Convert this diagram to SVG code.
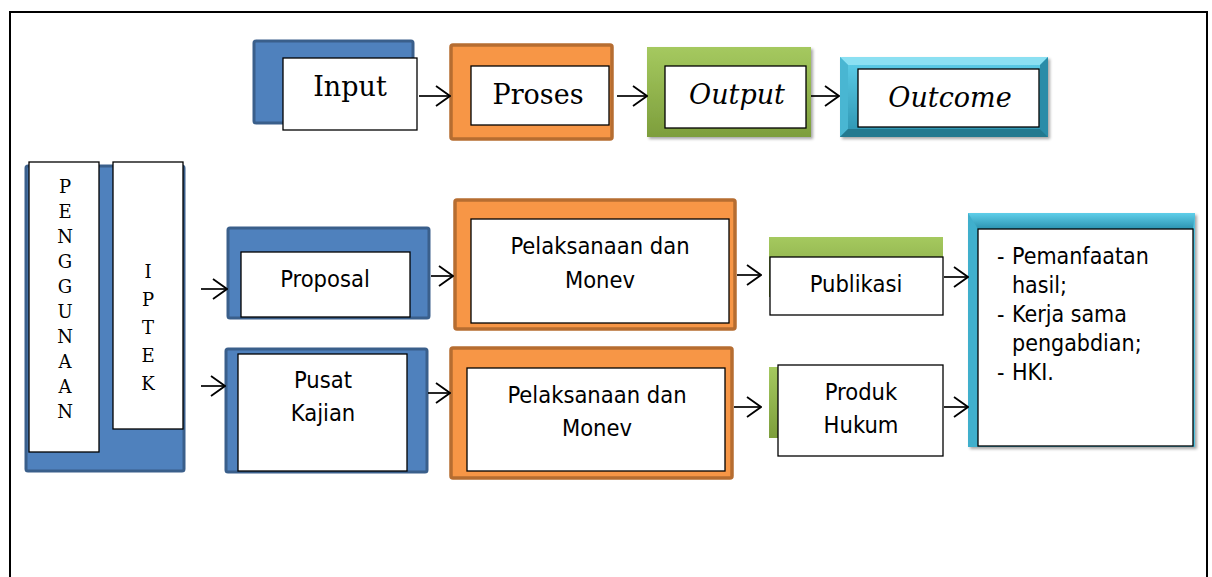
<svg xmlns="http://www.w3.org/2000/svg" width="1212" height="577" viewBox="0 0 1212 577">
<style>
.blue{fill:#4F81BD;stroke:#3A5F8B;stroke-width:3}
.orange{fill:#F79646;stroke:#B66D31;stroke-width:3.5}
.inner{fill:#fff;stroke:#000;stroke-width:1.3}
.serif{font-family:'DejaVu Serif',serif;font-size:27px;fill:#000;text-anchor:middle}
.it{font-style:italic}
.vert{font-family:'DejaVu Serif',serif;font-size:18px;fill:#000;text-anchor:middle}
.sans{font-family:'DejaVu Sans Condensed','DejaVu Sans',sans-serif;font-stretch:condensed;font-size:23.5px;fill:#000;text-anchor:middle}
.sansl{font-family:'DejaVu Sans Condensed','DejaVu Sans',sans-serif;font-stretch:condensed;font-size:23px;fill:#000}
.conn{stroke:#000;stroke-width:1.7;fill:none;marker-end:url(#arr)}
</style>
<defs>
<marker id="arr" markerUnits="userSpaceOnUse" viewBox="0 0 16 22" refX="15" refY="11" markerWidth="16" markerHeight="22" orient="auto">
<path d="M1,1 L15,11 L1,21" fill="none" stroke="#000" stroke-width="1.8"/>
</marker>
<linearGradient id="green" x1="0" y1="0" x2="0" y2="1">
<stop offset="0" stop-color="#A5C95F"/>
<stop offset="1" stop-color="#7D9E3C"/>
</linearGradient>
<linearGradient id="cyan" x1="0" y1="0" x2="0" y2="1">
<stop offset="0" stop-color="#5FCFEA"/>
<stop offset="1" stop-color="#2C93B0"/>
</linearGradient>
<linearGradient id="cyanL" x1="0" y1="0" x2="1" y2="0">
<stop offset="0" stop-color="#3FAFCC"/>
<stop offset="1" stop-color="#55C3DF"/>
</linearGradient>
<filter id="sh" x="-5%" y="-5%" width="115%" height="115%">
<feDropShadow dx="2" dy="2" stdDeviation="1.5" flood-color="#000" flood-opacity="0.35"/>
</filter>
</defs>
<rect width="1212" height="577" fill="#fff"/>
<rect x="10" y="12" width="1197" height="600" fill="none" stroke="#000" stroke-width="2"/>

<g id="input">
<rect class="blue" x="254" y="41" width="159" height="82" rx="2"/>
<rect class="inner" x="283" y="58" width="134" height="72"/>
<text class="serif" x="350" y="96">Input</text>
</g>
<g id="proses">
<rect class="orange" x="451" y="45" width="161" height="94" rx="2"/>
<rect class="inner" x="471" y="66" width="138" height="59"/>
<text class="serif" x="538" y="104">Proses</text>
</g>
<g id="output">
<rect x="647" y="47" width="164" height="90" fill="url(#green)" filter="url(#sh)"/>
<rect class="inner" x="665" y="66" width="141" height="62"/>
<text class="serif it" x="737" y="104">Output</text>
</g>
<g id="outcome">
<rect x="840" y="57" width="208" height="80" fill="url(#cyan)" filter="url(#sh)"/>
<path d="M840,57 L1048,57 L1040,65 L848,65 Z" fill="#8BE0F2"/>
<path d="M840,57 L848,65 L848,129 L840,137 Z" fill="#49B6D2"/>
<path d="M1048,57 L1040,65 L1040,129 L1048,137 Z" fill="#2A8CA8"/>
<path d="M840,137 L848,129 L1040,129 L1048,137 Z" fill="#23798F"/>
<rect class="inner" x="858" y="69" width="181" height="58"/>
<text class="serif it" x="950" y="107">Outcome</text>
</g>

<g id="penggunaan-iptek">
<rect class="blue" x="26" y="166" width="158" height="305" rx="2"/>
<rect class="inner" x="29" y="162" width="70" height="290"/>
<rect class="inner" x="113" y="162" width="70" height="267"/>
<text class="vert" x="65" y="193">P</text>
<text class="vert" x="65" y="218">E</text>
<text class="vert" x="65" y="243">N</text>
<text class="vert" x="65" y="268">G</text>
<text class="vert" x="65" y="293">G</text>
<text class="vert" x="65" y="318">U</text>
<text class="vert" x="65" y="343">N</text>
<text class="vert" x="65" y="368">A</text>
<text class="vert" x="65" y="393">A</text>
<text class="vert" x="65" y="418">N</text>
<text class="vert" x="148" y="278">I</text>
<text class="vert" x="148" y="306">P</text>
<text class="vert" x="148" y="334">T</text>
<text class="vert" x="148" y="362">E</text>
<text class="vert" x="148" y="390">K</text>
</g>

<g id="proposal">
<rect class="blue" x="228" y="228" width="201" height="90" rx="2"/>
<rect class="inner" x="241" y="252" width="169" height="65"/>
<text class="sans" x="325" y="287">Proposal</text>
</g>
<g id="pusat-kajian">
<rect class="blue" x="226" y="349" width="201" height="123" rx="2"/>
<rect class="inner" x="238" y="354" width="169" height="117"/>
<text class="sans" x="323" y="388">Pusat</text>
<text class="sans" x="323" y="421">Kajian</text>
</g>
<g id="pelaksanaan-1">
<rect class="orange" x="455" y="200" width="280" height="129" rx="2"/>
<rect class="inner" x="471" y="219" width="258" height="104"/>
<text class="sans" x="600" y="254">Pelaksanaan dan</text>
<text class="sans" x="600" y="288">Monev</text>
</g>
<g id="pelaksanaan-2">
<rect class="orange" x="451" y="348" width="281" height="130" rx="2"/>
<rect class="inner" x="467" y="368" width="258" height="103"/>
<text class="sans" x="597" y="403">Pelaksanaan dan</text>
<text class="sans" x="597" y="436">Monev</text>
</g>
<g id="publikasi">
<rect x="769" y="237" width="174" height="60" fill="url(#green)"/>
<rect class="inner" x="770" y="257" width="173" height="58"/>
<text class="sans" x="856" y="292">Publikasi</text>
</g>
<g id="produk-hukum">
<rect x="769" y="367" width="160" height="71" fill="url(#green)"/>
<rect class="inner" x="778" y="365" width="165" height="91"/>
<text class="sans" x="861" y="400">Produk</text>
<text class="sans" x="861" y="433">Hukum</text>
</g>
<g id="hasil">
<rect x="968" y="213" width="227" height="234" fill="url(#cyanL)" filter="url(#sh)"/>
<path d="M968,213 L1195,213 L1193,229 L978,229 Z" fill="url(#cyan)"/>
<rect class="inner" x="978" y="229" width="215" height="217"/>
<text class="sansl" x="997" y="264">-</text>
<text class="sansl" x="1012" y="264">Pemanfaatan</text>
<text class="sansl" x="1012" y="293">hasil;</text>
<text class="sansl" x="997" y="322">-</text>
<text class="sansl" x="1012" y="322">Kerja sama</text>
<text class="sansl" x="1012" y="351">pengabdian;</text>
<text class="sansl" x="997" y="380">-</text>
<text class="sansl" x="1012" y="380">HKI.</text>
</g>

<g id="connectors">
<line class="conn" x1="419" y1="96" x2="450" y2="96"/>
<line class="conn" x1="617" y1="96" x2="647" y2="96"/>
<line class="conn" x1="811" y1="96" x2="839" y2="96"/>
<line class="conn" x1="201" y1="289" x2="227" y2="289"/>
<line class="conn" x1="201" y1="386" x2="225" y2="386"/>
<line class="conn" x1="431" y1="276" x2="453" y2="276"/>
<line class="conn" x1="428" y1="393" x2="450" y2="393"/>
<line class="conn" x1="737" y1="275" x2="761" y2="275"/>
<line class="conn" x1="734" y1="407" x2="761" y2="407"/>
<line class="conn" x1="944" y1="277" x2="968" y2="277"/>
<line class="conn" x1="944" y1="407" x2="968" y2="407"/>
</g>
</svg>
